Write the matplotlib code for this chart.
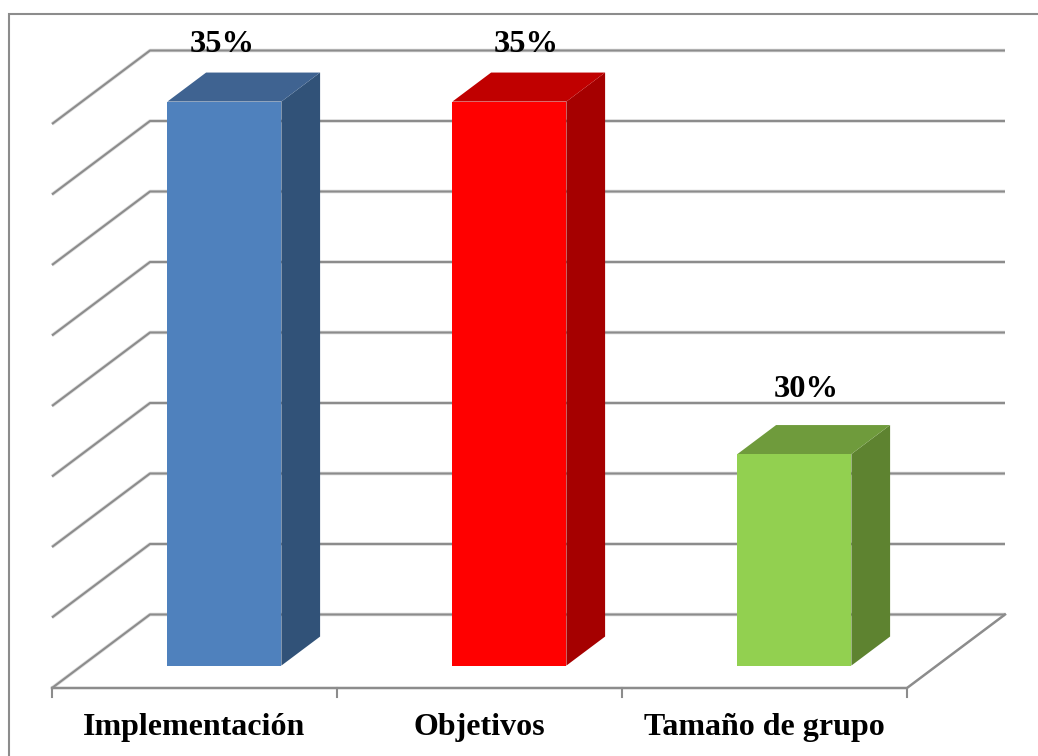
import matplotlib
matplotlib.use('Agg')
import matplotlib.pyplot as plt
from matplotlib.patches import Polygon, Rectangle

categories = ['Implementación', 'Objetivos', 'Tamaño de grupo']
values = [35, 35, 30]
grid_values = [27, 28, 29, 30, 31, 32, 33, 34, 35]

front_colors = ['#4F81BD', '#FF0000', '#92D050']
top_colors = ['#3F6391', '#C00000', '#6F9B3C']
side_colors = ['#315278', '#A50000', '#5E8330']

W, H = 1038, 756
SLOT = 285.0     # px per category
UNIT = 70.5      # px per percentage point
X0, Y0 = 194.5, 688.0   # px of first category centre, value 27, on the front floor edge
DX, DY = 98.0 / SLOT, 73.5 / UNIT  # depth shear in data units
BASE = 27
BAR_W = 0.40
D_FRONT, D_BACK = 0.305, 0.70
LABEL_SHIFT = [-2, 17, 12]  # px, data labels sit off the bar centre
LABEL_GAP = [57, 57, 65]    # px above the bar front


def pr(x, v, d=0.0):
    # floor depth d shifts a point right and up
    return x + d * DX, v + d * DY


fig = plt.figure(figsize=(W / 100, H / 100), dpi=100)
ax = fig.add_axes([0, 0, 1, 1])
ax.set_xlim(-X0 / SLOT, (W - X0) / SLOT)
ax.set_ylim(BASE - (H - Y0) / UNIT, BASE + Y0 / UNIT)
ax.axis('off')

# outer frame, runs off the right and bottom of the image
fig.add_artist(Rectangle((8.5 / W, -0.05), 1.2, 1.05 - 14 / H, transform=fig.transFigure,
                         fill=False, edgecolor='#8C8C8C', linewidth=1.5))

x_left, x_right = -0.5, 2.5
for v in grid_values:
    xs, ys = zip(pr(x_left, v), pr(x_left, v, 1), pr(x_right, v, 1))
    ax.plot(xs, ys, color='#DDDDDD', linewidth=2.6, zorder=1, solid_capstyle='butt')
    ax.plot(xs, ys, color='#8C8C8C', linewidth=1.5, zorder=1.5, solid_capstyle='butt')

# floor front edge, right edge and ticks
xs, ys = zip(pr(x_left, BASE), pr(x_right, BASE), pr(x_right, BASE, 1))
ax.plot(xs, ys, color='#8C8C8C', linewidth=1.8, zorder=1.5, solid_joinstyle='miter')
for i in range(len(categories) + 1):
    ax.plot([x_left + i, x_left + i], [BASE, BASE - 9 / UNIT], color='#8C8C8C', linewidth=1.5, zorder=1.5)

for i, v in enumerate(values):
    l, r = i - BAR_W / 2, i + BAR_W / 2
    front = [pr(l, BASE, D_FRONT), pr(r, BASE, D_FRONT), pr(r, v, D_FRONT), pr(l, v, D_FRONT)]
    top = [pr(l, v, D_FRONT), pr(r, v, D_FRONT), pr(r, v, D_BACK), pr(l, v, D_BACK)]
    side = [pr(r, BASE, D_FRONT), pr(r, BASE, D_BACK), pr(r, v, D_BACK), pr(r, v, D_FRONT)]
    ax.add_patch(Polygon(side, facecolor=side_colors[i], edgecolor='none', zorder=3))
    ax.add_patch(Polygon(top, facecolor=top_colors[i], edgecolor='none', zorder=3))
    ax.add_patch(Polygon(front, facecolor=front_colors[i], edgecolor='none', zorder=4))

    cx, cy = pr(i, v, D_FRONT)
    ax.annotate(f'{v}%', (cx, cy), xytext=(LABEL_SHIFT[i] * 0.72, LABEL_GAP[i] * 0.72),
                textcoords='offset points', ha='center', va='center',
                family='Liberation Serif', fontweight='bold', fontsize=23.4, color='black', zorder=6)

    ax.text(i, BASE - 40 / UNIT, categories[i], ha='center', va='center',
            family='Liberation Serif', fontweight='bold', fontsize=23.0, color='black')

fig.savefig('out.png', dpi=100, facecolor='white')
